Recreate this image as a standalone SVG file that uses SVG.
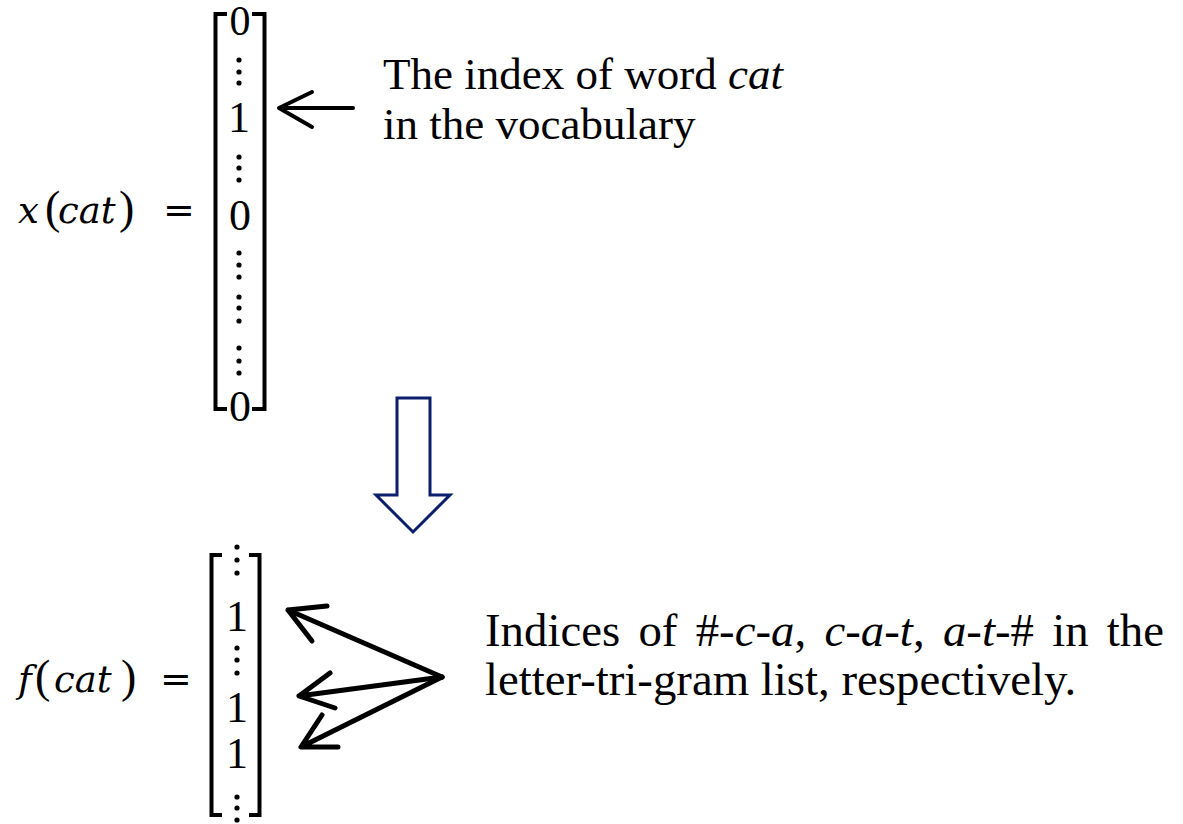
<svg xmlns="http://www.w3.org/2000/svg" width="1183" height="824" viewBox="0 0 1183 824">
<style>
.m{font-family:"Liberation Serif","Times New Roman",serif;font-size:44px;fill:#000}
.mi{font-family:"DejaVu Serif",serif;font-style:italic;font-size:37px}
.eq{font-family:"DejaVu Serif",serif;font-size:38px}
.p{font-family:"Liberation Serif",serif;font-size:46px}
.i{font-style:italic}
.t{font-family:"Liberation Serif","Times New Roman",serif;font-size:45px;fill:#000}
.t2{font-family:"Liberation Serif","Times New Roman",serif;font-size:46.8px;fill:#000}
.br{fill:none;stroke:#000;stroke-width:4}
.d{fill:#000}
.ar{fill:none;stroke:#000;stroke-linecap:round;stroke-linejoin:round}
</style>
<rect width="1183" height="824" fill="#fff"/>
<g id="x-vector">
<text class="m" y="223"><tspan class="mi" x="18">x</tspan><tspan class="p" x="45">(</tspan><tspan class="mi" x="58">cat</tspan><tspan class="p" x="119">)</tspan><tspan class="eq" x="163">=</tspan></text>
<path class="br" d="M227,14 H215.5 V409 H227 M252,14 H264.5 V409 H252"/>
<g text-anchor="middle" class="m">
<text x="240" y="35" style="font-size:42px">0</text>
<text x="239" y="132">1</text>
<text x="240" y="230">0</text>
<text x="240" y="421">0</text>
</g>
<g class="d">
<circle cx="239" cy="60" r="2.6"/><circle cx="239" cy="72" r="2.6"/><circle cx="239" cy="83" r="2.6"/>
<circle cx="239" cy="157" r="2.6"/><circle cx="239" cy="168" r="2.6"/><circle cx="239" cy="180" r="2.6"/>
<circle cx="239" cy="253" r="2.6"/><circle cx="239" cy="265" r="2.6"/><circle cx="239" cy="277" r="2.6"/>
<circle cx="239" cy="297" r="2.6"/><circle cx="239" cy="308" r="2.6"/><circle cx="239" cy="321" r="2.6"/>
<circle cx="239" cy="348" r="2.6"/><circle cx="239" cy="361" r="2.6"/><circle cx="239" cy="373" r="2.6"/>
</g>
</g>
<g id="x-label">
<text class="t" x="383" y="89">The index of word <tspan class="i">cat</tspan></text>
<text class="t" x="383" y="139">in the vocabulary</text>
</g>
<g id="transform-arrow">
<path d="M397,398 H430 V495 H450 L413,532 L376,495 H397 Z" fill="#fff" stroke="#0B1E6B" stroke-width="3" stroke-linejoin="miter"/>
</g>
<g id="f-vector">
<text class="m" y="692"><tspan class="mi" x="18">f</tspan><tspan class="p" x="35">(</tspan><tspan class="mi" x="54">cat</tspan><tspan class="p" x="121">)</tspan><tspan class="eq" x="160">=</tspan></text>
<path class="br" d="M222,555 H211.5 V815 H222 M249,555 H259.5 V815 H249"/>
<g text-anchor="middle" class="m">
<text x="237" y="631">1</text>
<text x="237" y="722">1</text>
<text x="237" y="768">1</text>
</g>
<g class="d">
<circle cx="237" cy="547" r="2.6"/><circle cx="237" cy="560" r="2.6"/><circle cx="237" cy="573" r="2.6"/>
<circle cx="237" cy="648" r="2.6"/><circle cx="237" cy="660" r="2.6"/><circle cx="237" cy="673" r="2.6"/>
<circle cx="237" cy="797" r="2.6"/><circle cx="237" cy="808" r="2.6"/><circle cx="237" cy="820" r="2.6"/>
</g>
</g>
<g id="f-label">
<text class="t2" x="485" y="646" word-spacing="6.6">Indices of #-<tspan class="i">c</tspan>-<tspan class="i">a</tspan>, <tspan class="i">c</tspan>-<tspan class="i">a</tspan>-<tspan class="i">t</tspan>, <tspan class="i">a</tspan>-<tspan class="i">t</tspan>-# in the</text>
<text class="t2" x="485" y="695">letter-tri-gram list, respectively.</text>
</g>
<g id="connectors">
<path class="ar" stroke-width="4" d="M353,108 H279 M312,92 L279,108 L312,127"/>
<path class="ar" stroke-width="5" d="M442,677 L288,610 M327,606 L288,610 L312,641"/>
<path class="ar" stroke-width="5" d="M442,677 L299,696 M330,673 L299,696 L335,708"/>
<path class="ar" stroke-width="5" d="M442,677 L301,747 M322,715 L301,747 L338,747"/>
</g>
</svg>
